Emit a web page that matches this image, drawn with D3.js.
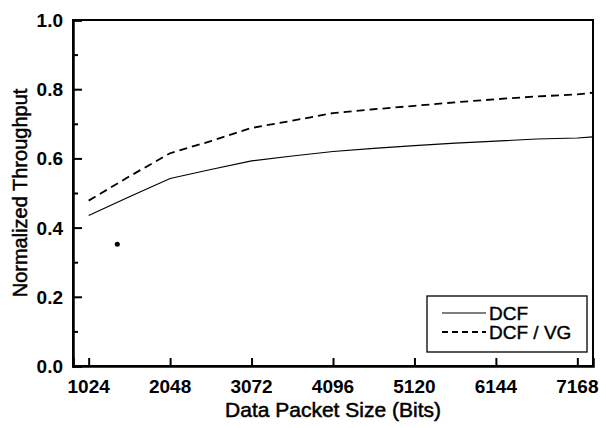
<!DOCTYPE html>
<html>
<head>
<meta charset="utf-8">
<script src="https://cdn.jsdelivr.net/npm/d3@7"></script>
<style>
    body { margin: 0; background: #fff; }
    text { font-family: "Liberation Sans", Arial, sans-serif; fill: #000; }
</style>
</head>
<body>
<svg id="chart" width="606" height="428"></svg>
<script>
// packet sizes (bits)
const packetSizes = [1024, 1536, 2048, 2560, 3072, 3584, 4096, 4608, 5120, 5632, 6144, 6656, 7168, 7365];
// normalized throughput
const dcf = [0.435, 0.489, 0.542, 0.568, 0.593, 0.607, 0.620, 0.629, 0.637, 0.644, 0.650, 0.656, 0.659, 0.662];
const dcfVg = [0.478, 0.548, 0.615, 0.650, 0.688, 0.709, 0.731, 0.742, 0.752, 0.762, 0.771, 0.779, 0.785, 0.790];
// a stray dot left in the scanned figure
const strayDot = [{ x: 1384, y: 0.352 }];

const xTicks = [1024, 2048, 3072, 4096, 5120, 6144, 7168];
const yTicks = [0, 0.2, 0.4, 0.6, 0.8, 1.0];
const yMinor = [0.1, 0.3, 0.5, 0.7, 0.9];

const seriesNames = ["DCF", "DCF / VG"];

const width = 606;
const height = 428;
const margin = { top: 20, right: 13, bottom: 62, left: 73 };

const svg = d3.select("#chart");

const x = d3
    .scaleLinear()
    .domain([827, 7365])
    .range([margin.left, width - margin.right]);

const y = d3
    .scaleLinear()
    .domain([0, 1])
    .range([height - margin.bottom, margin.top]);

// frame
svg.append("rect")
    .attr("x", margin.left)
    .attr("y", margin.top)
    .attr("width", width - margin.left - margin.right)
    .attr("height", height - margin.top - margin.bottom)
    .attr("fill", "none")
    .attr("stroke", "#000")
    .attr("stroke-width", 2);

// y axis, ticks pointing inward
const yAxis = svg
    .append("g")
    .attr("transform", `translate(${margin.left},0)`)
    .call(
        d3.axisRight(y)
            .tickValues(yTicks)
            .tickSize(9)
            .tickFormat("")
    );
yAxis.select(".domain").attr("stroke-width", 2.5);
yAxis.selectAll(".tick line").attr("stroke-width", 2);

svg.append("g")
    .attr("transform", `translate(${margin.left},0)`)
    .call(d3.axisRight(y).tickValues(yMinor).tickSize(5).tickFormat(""))
    .call((g) => g.select(".domain").remove())
    .selectAll(".tick line")
    .attr("stroke-width", 2);

svg.append("g")
    .selectAll("text")
    .data(yTicks)
    .join("text")
    .attr("x", margin.left - 10)
    .attr("y", (d) => y(d) + 7)
    .attr("text-anchor", "end")
    .attr("font-size", 19)
    .attr("font-weight", "bold")
    .text((d) => d3.format(".1f")(d));

// x axis, ticks pointing inward
const xAxis = svg
    .append("g")
    .attr("transform", `translate(0,${height - margin.bottom})`)
    .call(
        d3.axisTop(x)
            .tickValues(xTicks)
            .tickSize(8)
            .tickFormat("")
    );
xAxis.select(".domain").attr("stroke-width", 2.5);
xAxis.selectAll(".tick line").attr("stroke-width", 2);

svg.append("g")
    .selectAll("text")
    .data(xTicks)
    .join("text")
    .attr("x", (d) => x(d))
    .attr("y", height - margin.bottom + 27)
    .attr("text-anchor", "middle")
    .attr("font-size", 19)
    .attr("font-weight", "bold")
    .text((d) => d);

// axis titles
svg.append("text")
    .attr("x", (margin.left + width - margin.right) / 2)
    .attr("y", height - 11)
    .attr("text-anchor", "middle")
    .attr("font-size", 21)
    .attr("stroke", "#000")
    .attr("stroke-width", 0.5)
    .text("Data Packet Size (Bits)");

svg.append("text")
    .attr("transform", `translate(27,${(margin.top + height - margin.bottom) / 2}) rotate(-90)`)
    .attr("text-anchor", "middle")
    .attr("font-size", 20)
    .attr("stroke", "#000")
    .attr("stroke-width", 0.5)
    .text("Normalized Throughput");

// curves
const line = d3
    .line()
    .x((d) => x(d[0]))
    .y((d) => y(d[1]));

svg.append("path")
    .datum(d3.zip(packetSizes, dcf))
    .attr("fill", "none")
    .attr("stroke", "#000")
    .attr("stroke-width", 1.2)
    .attr("d", line);

svg.append("path")
    .datum(d3.zip(packetSizes, dcfVg))
    .attr("fill", "none")
    .attr("stroke", "#000")
    .attr("stroke-width", 1.8)
    .attr("stroke-dasharray", "8,5")
    .attr("d", line);

svg.append("g")
    .selectAll("circle")
    .data(strayDot)
    .join("circle")
    .attr("cx", (d) => x(d.x))
    .attr("cy", (d) => y(d.y))
    .attr("r", 2.5)
    .attr("fill", "#000");

// legend
const legend = svg.append("g").attr("transform", "translate(427,296)");
legend.append("rect")
    .attr("width", 160)
    .attr("height", 56)
    .attr("fill", "#fff")
    .attr("stroke", "#000")
    .attr("stroke-width", 1.3);

const legendItems = legend
    .selectAll(".legend-item")
    .data(seriesNames)
    .join("g")
    .attr("class", "legend-item")
    .attr("transform", (d, i) => `translate(0, ${17 + i * 19})`);

legendItems.append("line")
    .attr("x1", 15)
    .attr("x2", 59)
    .attr("stroke", "#000")
    .attr("stroke-width", (d, i) => (i === 0 ? 1.2 : 1.8))
    .attr("stroke-dasharray", (d, i) => (i === 0 ? null : "6,4"));

legendItems.append("text")
    .attr("x", 62)
    .attr("y", 7)
    .attr("font-size", 19)
    .attr("stroke", "#000")
    .attr("stroke-width", 0.4)
    .text((d) => d);
</script>
</body>
</html>
